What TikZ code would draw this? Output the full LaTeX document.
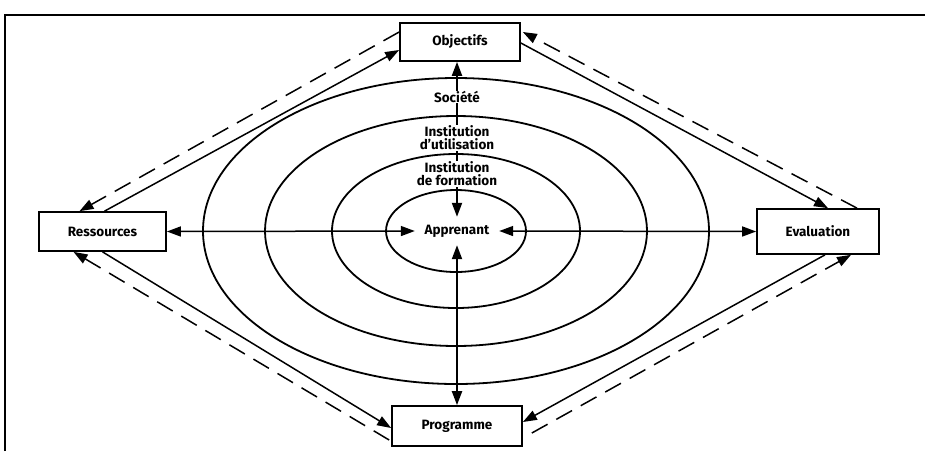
\documentclass[tikz,border=0pt]{standalone}
\usepackage{fontspec}
\setmainfont{Fira Sans}
\usetikzlibrary{arrows.meta}
\tikzstyle{box} = [
    draw,
    line width=1.7pt,
    rectangle,
    minimum width=120pt,
    minimum height=38pt,
    inner sep=0pt,
    font=\bfseries\fontsize{13.5}{13.5}\selectfont
]
\tikzstyle{level} = [fill=white, inner sep=0.6pt, align=center, font=\bfseries\fontsize{13.5}{13}\selectfont]
\tikzstyle{ring} = [line width=1.8pt]
\tikzstyle{path} = [-{Triangle[length=14pt, width=10pt]}, line width=1.5pt]
\tikzstyle{both} = [path, {Triangle[length=14pt, width=10pt]}-{Triangle[length=14pt, width=10pt]}]
\tikzstyle{back} = [path, dash pattern=on 18pt off 10pt]

\begin{document}
\begin{tikzpicture}[x=1pt, y=-1pt]
    \useasboundingbox (0, 0) rectangle (925, 451);

    % Frame.
    \draw [line width=2.6pt] (5, 451) -- (5, 15) -- (925, 15);

    % Rings.
    \draw [ring] (456, 231) ellipse [x radius=253, y radius=153];
    \draw [ring] (456, 231) ellipse [x radius=191, y radius=115];
    \draw [ring] (456, 231) ellipse [x radius=124, y radius=77];
    \draw [ring] (456, 231) ellipse [x radius=70, y radius=41];

    % Nodes.
    \node (objectifs) [box] at (460, 42) {Objectifs};
    \node (ressources) [box, minimum width=127pt, minimum height=39pt] at (102.5, 231.5) {Ressources};
    \node (evaluation) [box, minimum width=122pt, minimum height=45pt] at (818, 231.5) {Evaluation};
    \node (programme) [box, minimum width=130pt, minimum height=40pt] at (457, 426) {Programme};
    \node (apprenant) [minimum width=84pt, minimum height=28pt, inner sep=0pt,
        font=\bfseries\fontsize{13.5}{13.5}\selectfont] at (457, 231) {Apprenant};

    % Paths.

    % Axes to the learner.
    \draw [both, line width=2pt] (apprenant.north |- objectifs.south) -- (apprenant.north);
    \draw [both, line width=2pt] (apprenant.south) -- (apprenant.south |- programme.north);
    \draw [both] (ressources.east) -- (apprenant.west);
    \draw [both] (apprenant.east) -- (evaluation.west);

    % Levels.
    \node (societe) [level] at (457, 97) {Société};
    \node (utilisation) [level] at (457, 138) {Institution\\d'utilisation};
    \node (formation) [level] at (457, 174) {Institution\\de formation};

    % Outer loop.
    \draw [path] ([xshift=2pt]ressources.north) -- ([yshift=-8pt]objectifs.west);
    \draw [back] ([yshift=10pt]objectifs.west) -- ([xshift=-23pt]ressources.north);

    \draw [path] ([yshift=-1pt]objectifs.east) -- ([xshift=10pt]evaluation.north);
    \draw [back] ([xshift=39pt]evaluation.north) -- ([xshift=2pt, yshift=10pt]objectifs.east);

    \draw [path] ([xshift=7pt]evaluation.south) -- ([yshift=4pt]programme.east);
    \draw [back] ([xshift=9pt, yshift=-7pt]programme.east) -- ([xshift=33pt]evaluation.south);

    \draw [path] (ressources.south) -- ([yshift=-2pt]programme.west);
    \draw [back] ([xshift=-2pt, yshift=-14pt]programme.west) -- ([xshift=-29pt]ressources.south);
\end{tikzpicture}
\end{document}
